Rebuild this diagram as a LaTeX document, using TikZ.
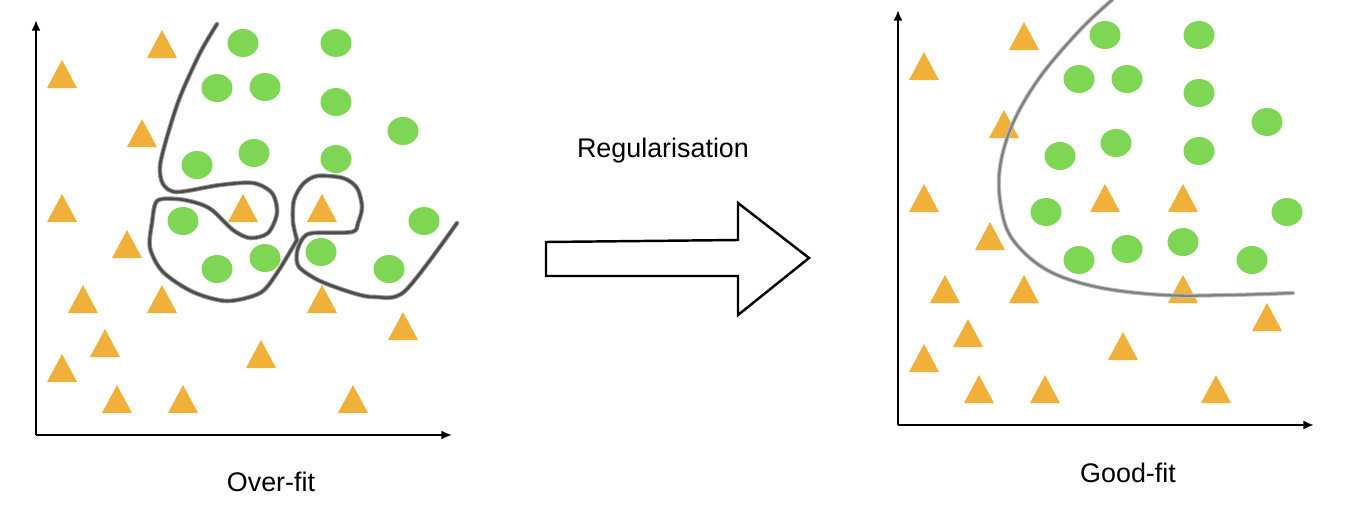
\documentclass[tikz,border=0pt]{standalone}
\usepackage{fontspec}
\setmainfont{Liberation Sans}
\usetikzlibrary{arrows.meta}
\definecolor{triC}{RGB}{240,176,58}
\definecolor{dotC}{RGB}{126,214,84}
\begin{document}
\begin{tikzpicture}[x=0.02cm,y=-0.02cm,
  axis/.style={line width=1.1pt,-{Latex[length=6pt,width=5pt]}},
  lab/.style={font=\fontsize{15.3}{18}\selectfont,inner sep=0pt,anchor=base},
  fuzzL/.style={line width=2.6pt,draw=black!40,line cap=round,line join=round},
  curveL/.style={line width=1.5pt,draw=black!70,line cap=round,line join=round},
  fuzzR/.style={line width=2.4pt,draw=black!25,line cap=round},
  curveR/.style={line width=1.3pt,draw=black!50,line cap=round},
  bigarrow/.style={line width=1.4pt,draw=black,line join=miter,fill=white}]
\useasboundingbox (0,0) rectangle (1358,514);

% ---------- left panel ----------
\coordinate (Lo) at (36,435);
\coordinate (Ly) at (36,20);
\coordinate (Lx) at (452,435);
\draw[axis] (Lo) -- (Ly);
\draw[axis] (Lo) -- (Lx);

\foreach \x/\y in {162/44,62/74,142/133,62/208,243/208,322/208,127/244,83/299,162/299,322/299,403/326,105/343,261/354,62/368,117/399,183/399,353/399}
  \fill[triC] (\x,\y) ++(-15,14) -- ++(30,0) -- ++(-15,-28) -- cycle;

\foreach \x/\y in {243/43,336/43,217/88,265/87,336/102,403/131,197/165,254/153,336/159,183/221,424/221,217/269,265/258,321/252,389/269}
  \fill[dotC] (\x,\y) ellipse [x radius=0.31cm,y radius=0.28cm];

\def\leftcurveA{(217,24) (200,53) (180,97) (167,137) (160,166) (163,184) (177,192) (220,185) (253,183) (272,193) (277,213) (268,233) (250,238) (233,230) (212,210) (197,203) (177,199) (157,201) (152,223) (150,248) (163,272) (193,292) (227,301) (260,293) (277,273) (297,240)}
\def\leftcurveB{(297,240) (293,222) (294,200) (303,184) (317,176) (343,178) (357,188) (362,207) (358,223) (352,232) (313,233) (303,238) (297,252) (299,267) (320,281) (353,293) (375,297) (405,291) (457,223)}
\draw[fuzzL] plot[smooth,tension=0.5] coordinates {\leftcurveA};
\draw[fuzzL] plot[smooth,tension=0.5] coordinates {\leftcurveB};
\draw[curveL] plot[smooth,tension=0.5] coordinates {\leftcurveA};
\draw[curveL] plot[smooth,tension=0.5] coordinates {\leftcurveB};

\node[lab] (overfit) at (271,491) {Over-fit};

% ---------- middle arrow ----------
\draw[bigarrow] (546,242) -- (738,240) -- (738,203) -- (809,258) -- (738,315) -- (738,276) -- (546,276) -- cycle;
\node[lab] (reg) at (663,157) {Regularisation};

% ---------- right panel ----------
\coordinate (Ro) at (898,425);
\coordinate (Ry) at (898,10);
\coordinate (Rx) at (1314,425);
\draw[axis] (Ro) -- (Ry);
\draw[axis] (Ro) -- (Rx);

\foreach \x/\y in {1024/36,924/66,1004/124,924/198,1105/198,1183/198,990/236,945/289,1024/289,1183/289,1267/317,968/333,1123/346,924/358,979/389,1045/389,1216/389}
  \fill[triC] (\x,\y) ++(-15,14) -- ++(30,0) -- ++(-15,-28) -- cycle;

\foreach \x/\y in {1105/35,1199/35,1079/79,1127/79,1199/93,1267/122,1060/156,1116/143,1199/151,1046/212,1287/212,1079/260,1127/249,1183/242,1252/260}
  \fill[dotC] (\x,\y) ellipse [x radius=0.31cm,y radius=0.28cm];

\def\rightcurve{(1112,0) (1080,30) (1040,77) (1013,123) (1000,167) (1001,207) (1013,240) (1047,270) (1097,287) (1163,295) (1230,295) (1293,293)}
\draw[fuzzR] plot[smooth,tension=0.6] coordinates {\rightcurve};
\draw[curveR] plot[smooth,tension=0.6] coordinates {\rightcurve};

\node[lab] (goodfit) at (1128,482) {Good-fit};
\end{tikzpicture}
\end{document}
